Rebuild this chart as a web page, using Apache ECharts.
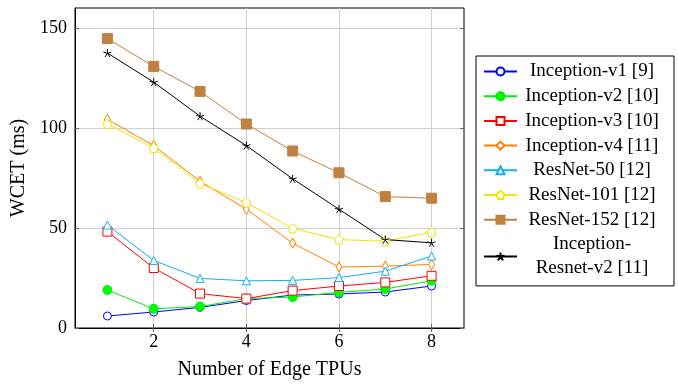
<!DOCTYPE html>
<html>
<head>
<meta charset="utf-8">
<script src="https://cdn.jsdelivr.net/npm/echarts@6/dist/echarts.min.js"></script>
<style>
  html, body { margin: 0; padding: 0; background: #fff; }
  #chart { width: 678px; height: 385px; }
</style>
</head>
<body>
<div id="chart"></div>
<script>
// number of Edge TPUs
var tpus = [1, 2, 3, 4, 5, 6, 7, 8];
var xTicks = [2, 4, 6, 8];
var yTicks = [0, 50, 100, 150];

// WCET (ms) per model
var inceptionV1 = [6, 8, 10.3, 13.7, 16.5, 17, 18, 21];
var inceptionV2 = [19, 9.6, 10.7, 14.7, 15.5, 17.8, 19.5, 23.6];
var inceptionV3 = [48.2, 30, 17.2, 14.7, 18.7, 21, 22.8, 26.1];
var inceptionV4 = [104.3, 91.2, 73.4, 59.4, 42.4, 30.5, 30.9, 31.8];
var resnet50 = [51.5, 33.8, 24.8, 23.6, 23.8, 25.2, 28.4, 36];
var resnet101 = [102, 90, 72.3, 62.7, 49.8, 44.2, 43.4, 47.9];
var resnet152 = [144.7, 130.8, 118.3, 102, 88.5, 77.6, 65.7, 64.9];
var inceptionResnetV2 = [137.5, 122.9, 105.9, 91.2, 74.6, 59.4, 44.2, 42.6];

var pentagon = 'path://M0,-10L9.51,-3.09L5.88,8.09L-5.88,8.09L-9.51,-3.09Z';
var star = 'path://M0,0L0,-10M0,0L9.51,-3.09M0,0L5.88,8.09M0,0L-5.88,8.09M0,0L-9.51,-3.09';

var font = 'Liberation Serif';

function pairs(vals){
    var out = [];
    for (var i = 0; i < tpus.length; i++) {
        out.push([tpus[i], vals[i]]);
    }
    return out;
}

function makeSeries(name, vals, color, symbol, size, fill){
    return {
        name: name,
        type: 'line',
        data: pairs(vals),
        symbol: symbol,
        symbolSize: size,
        lineStyle: { color: color, width: 1 },
        itemStyle: { color: fill, borderColor: color, borderWidth: 1 },
        emphasis: { disabled: true }
    };
}

var series = [
    makeSeries('Inception-v1 [9]', inceptionV1, '#0000ff', 'circle', 8, '#fff'),
    makeSeries('Inception-v2 [10]', inceptionV2, '#00ee00', 'circle', 9, '#00ff00'),
    makeSeries('Inception-v3 [10]', inceptionV3, '#ff0000', 'rect', 9, '#fff'),
    makeSeries('Inception-v4 [11]', inceptionV4, '#ff8000', 'diamond', [6, 10], '#fff'),
    makeSeries('ResNet-50 [12]', resnet50, '#12b0f0', 'triangle', 8, '#fff'),
    makeSeries('ResNet-101 [12]', resnet101, '#f2e600', pentagon, 9, '#fff'),
    makeSeries('ResNet-152 [12]', resnet152, '#bf8040', 'rect', 10, '#bf8040'),
    makeSeries('Inception-\nResnet-v2 [11]', inceptionResnetV2, '#000000', star, 8, 'rgba(0,0,0,0)')
];

var chartDom = document.getElementById('chart');
var myChart = echarts.init(chartDom);
var option;

option = {
    animation: false,
    backgroundColor: '#fff',
    grid: {
        left: 75, right: 214, top: 8, bottom: 54,
        show: true, borderColor: '#000', borderWidth: 1
    },
    xAxis: [
        {
            type: 'value',
            min: 0.3,
            max: 8.7,
            name: 'Number of Edge TPUs',
            nameLocation: 'middle',
            nameGap: 32,
            nameTextStyle: { fontFamily: font, fontSize: 20, color: '#000' },
            axisLine: { lineStyle: { color: '#000' } },
            axisTick: { inside: true, length: 4, customValues: xTicks, lineStyle: { color: '#666' } },
            axisLabel: { customValues: xTicks, fontFamily: font, fontSize: 18, color: '#000', margin: 5 },
            splitLine: { show: true, lineStyle: { color: '#d0d0d0', width: 1 } }
        },
        {
            type: 'value',
            position: 'top',
            min: 0.3,
            max: 8.7,
            axisLine: { show: false },
            axisTick: { inside: true, length: 4, customValues: xTicks, lineStyle: { color: '#666' } },
            axisLabel: { show: false },
            splitLine: { show: false }
        }
    ],
    yAxis: [
        {
            type: 'value',
            min: 0,
            max: 160,
            name: 'WCET (ms)',
            nameLocation: 'middle',
            nameGap: 45,
            nameTextStyle: { fontFamily: font, fontSize: 20, color: '#000' },
            axisLine: { show: true, lineStyle: { color: '#000' } },
            axisTick: { show: true, inside: true, length: 4, customValues: yTicks, lineStyle: { color: '#666' } },
            axisLabel: { customValues: yTicks, fontFamily: font, fontSize: 18, color: '#000', margin: 8 },
            splitLine: { show: true, lineStyle: { color: '#d0d0d0', width: 1 } }
        },
        {
            type: 'value',
            position: 'right',
            min: 0,
            max: 160,
            axisLine: { show: false },
            axisTick: { show: true, inside: true, length: 4, customValues: yTicks, lineStyle: { color: '#666' } },
            axisLabel: { show: false },
            splitLine: { show: false }
        }
    ],
    legend: {
        orient: 'vertical',
        left: 476,
        top: 56,
        backgroundColor: '#fff',
        borderColor: '#000',
        borderWidth: 1,
        borderRadius: 0,
        padding: [6, 12, 8, 7],
        itemGap: 5.7,
        itemWidth: 33,
        itemHeight: 10,
        selectedMode: false,
        formatter: function(name){
            return '{t|' + name.split('\n').join('}\n{t|') + '}';
        },
        textStyle: {
            rich: {
                t: { fontFamily: font, fontSize: 19, color: '#000', width: 140, align: 'center', lineHeight: 24 }
            }
        }
    },
    series: series
};

option && myChart.setOption(option);
</script>
</body>
</html>
